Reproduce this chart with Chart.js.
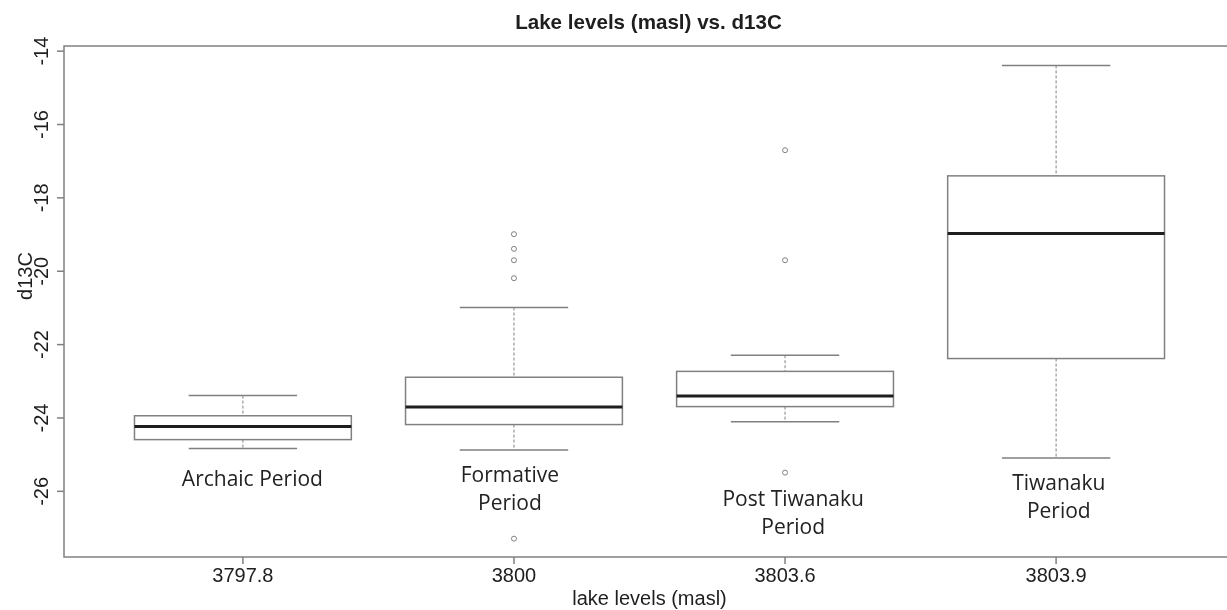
<!DOCTYPE html>
<html>
<head>
<meta charset="utf-8">
<script src="https://cdn.jsdelivr.net/npm/chart.js@4.4.0/dist/chart.umd.min.js"></script>
<style>
  html, body { margin: 0; padding: 0; background: #fff; overflow: hidden; }
</style>
</head>
<body>
<canvas id="boxChart" width="1245" height="610"></canvas>
<script>
// lake level of each period (x axis tick labels)
const levels = ['3797.8', '3800', '3803.6', '3803.9'];
const periods = [['Archaic Period'], ['Formative', 'Period'], ['Post Tiwanaku', 'Period'], ['Tiwanaku', 'Period']];

// d13C summary per period
const whiskerLow  = [-24.83, -24.87, -24.10, -25.09];
const q1          = [-24.59, -24.18, -23.69, -22.38];
const median      = [-24.23, -23.70, -23.40, -18.97];
const q3          = [-23.94, -22.89, -22.73, -17.40];
const whiskerHigh = [-23.39, -20.99, -22.29, -14.39];

// outliers: group number (1..4) and value
const outGroup = [2, 2, 2, 2, 2, 3, 3, 3];
const outValue = [-18.99, -19.39, -19.70, -20.19, -27.29, -16.70, -19.70, -25.49];

const yTicks = [-26, -24, -22, -20, -18, -16, -14];

// where the period names sit, in data units (group offset, baseline value)
const periodPos = [
  { dx: 0.035, y: -25.85 },
  { dx: -0.015, y: -25.74 },
  { dx: 0.03, y: -26.40 },
  { dx: 0.01, y: -25.97 }
];

const GREY = '#808080';
const INK = '#1e1e1e';

const boxPlot = {
  id: 'boxPlot',
  beforeDatasetsDraw(chart) {
    const { ctx, scales: { x, y } } = chart;
    ctx.save();
    levels.forEach((_, i) => {
      const cx = x.getPixelForValue(i + 1);
      const half = x.getPixelForValue(i + 1.4) - cx;
      const cap = half / 2;
      const yLo = y.getPixelForValue(whiskerLow[i]);
      const yQ1 = y.getPixelForValue(q1[i]);
      const yMed = y.getPixelForValue(median[i]);
      const yQ3 = y.getPixelForValue(q3[i]);
      const yHi = y.getPixelForValue(whiskerHigh[i]);

      // dashed whiskers
      ctx.strokeStyle = GREY;
      ctx.lineWidth = 1;
      ctx.setLineDash([3, 2]);
      ctx.beginPath();
      ctx.moveTo(cx, yHi); ctx.lineTo(cx, yQ3);
      ctx.moveTo(cx, yQ1); ctx.lineTo(cx, yLo);
      ctx.stroke();
      ctx.setLineDash([]);

      // whisker caps
      ctx.lineWidth = 1.5;
      ctx.beginPath();
      ctx.moveTo(cx - cap, yHi); ctx.lineTo(cx + cap, yHi);
      ctx.moveTo(cx - cap, yLo); ctx.lineTo(cx + cap, yLo);
      ctx.stroke();

      // box
      ctx.fillStyle = '#fff';
      ctx.fillRect(cx - half, yQ3, half * 2, yQ1 - yQ3);
      ctx.strokeRect(cx - half, yQ3, half * 2, yQ1 - yQ3);

      // median
      ctx.strokeStyle = INK;
      ctx.lineWidth = 3;
      ctx.beginPath();
      ctx.moveTo(cx - half, yMed); ctx.lineTo(cx + half, yMed);
      ctx.stroke();
    });
    ctx.restore();
  },
  afterDraw(chart) {
    const { ctx, chartArea: { left, top, right, bottom }, scales: { x, y } } = chart;
    ctx.save();

    // frame
    ctx.strokeStyle = GREY;
    ctx.lineWidth = 1.5;
    ctx.strokeRect(left, top, right - left, bottom - top);

    ctx.fillStyle = INK;
    ctx.font = '20px "Liberation Sans", Arial, sans-serif';

    // y axis ticks, labels turned like base R
    yTicks.forEach(t => {
      const py = y.getPixelForValue(t);
      ctx.beginPath();
      ctx.moveTo(left - 7, py); ctx.lineTo(left, py);
      ctx.stroke();
      ctx.save();
      ctx.translate(48, py);
      ctx.rotate(-Math.PI / 2);
      ctx.textAlign = 'center';
      ctx.fillText(String(t), 0, 0);
      ctx.restore();
    });

    // x axis ticks
    levels.forEach((lab, i) => {
      const px = x.getPixelForValue(i + 1);
      ctx.beginPath();
      ctx.moveTo(px, bottom); ctx.lineTo(px, bottom + 7);
      ctx.stroke();
      ctx.textAlign = 'center';
      ctx.fillText(lab, px, 582);
    });

    // axis titles
    ctx.textAlign = 'center';
    ctx.fillText('lake levels (masl)', (left + right) / 2, 605);
    ctx.save();
    ctx.translate(32, 276);
    ctx.rotate(-Math.PI / 2);
    ctx.fillText('d13C', 0, 0);
    ctx.restore();

    // title
    ctx.font = 'bold 20.6px "Liberation Sans", Arial, sans-serif';
    ctx.fillText('Lake levels (masl) vs. d13C', (left + right) / 2 - 1, 29);

    // period names
    ctx.font = '21px "Open Sans", sans-serif';
    ctx.fillStyle = '#222';
    periods.forEach((lines, i) => {
      const px = x.getPixelForValue(i + 1 + periodPos[i].dx);
      const py = y.getPixelForValue(periodPos[i].y);
      lines.forEach((line, k) => ctx.fillText(line, px, py + k * 28));
    });

    ctx.restore();
  }
};

new Chart(document.getElementById('boxChart'), {
  type: 'scatter',
  data: {
    datasets: [{
      label: 'outliers',
      data: outValue.map((v, i) => ({ x: outGroup[i], y: v })),
      pointRadius: 2.5,
      pointBorderWidth: 1,
      pointBorderColor: GREY,
      pointBackgroundColor: '#fff'
    }]
  },
  options: {
    responsive: false,
    animation: false,
    layout: { padding: { left: 64, top: 46, right: 10, bottom: 53 } },
    plugins: {
      legend: { display: false },
      tooltip: { enabled: false }
    },
    scales: {
      x: { type: 'linear', min: 0.34, max: 4.66, display: false },
      y: { type: 'linear', min: -27.79, max: -13.86, display: false }
    }
  },
  plugins: [boxPlot]
});
</script>
</body>
</html>
